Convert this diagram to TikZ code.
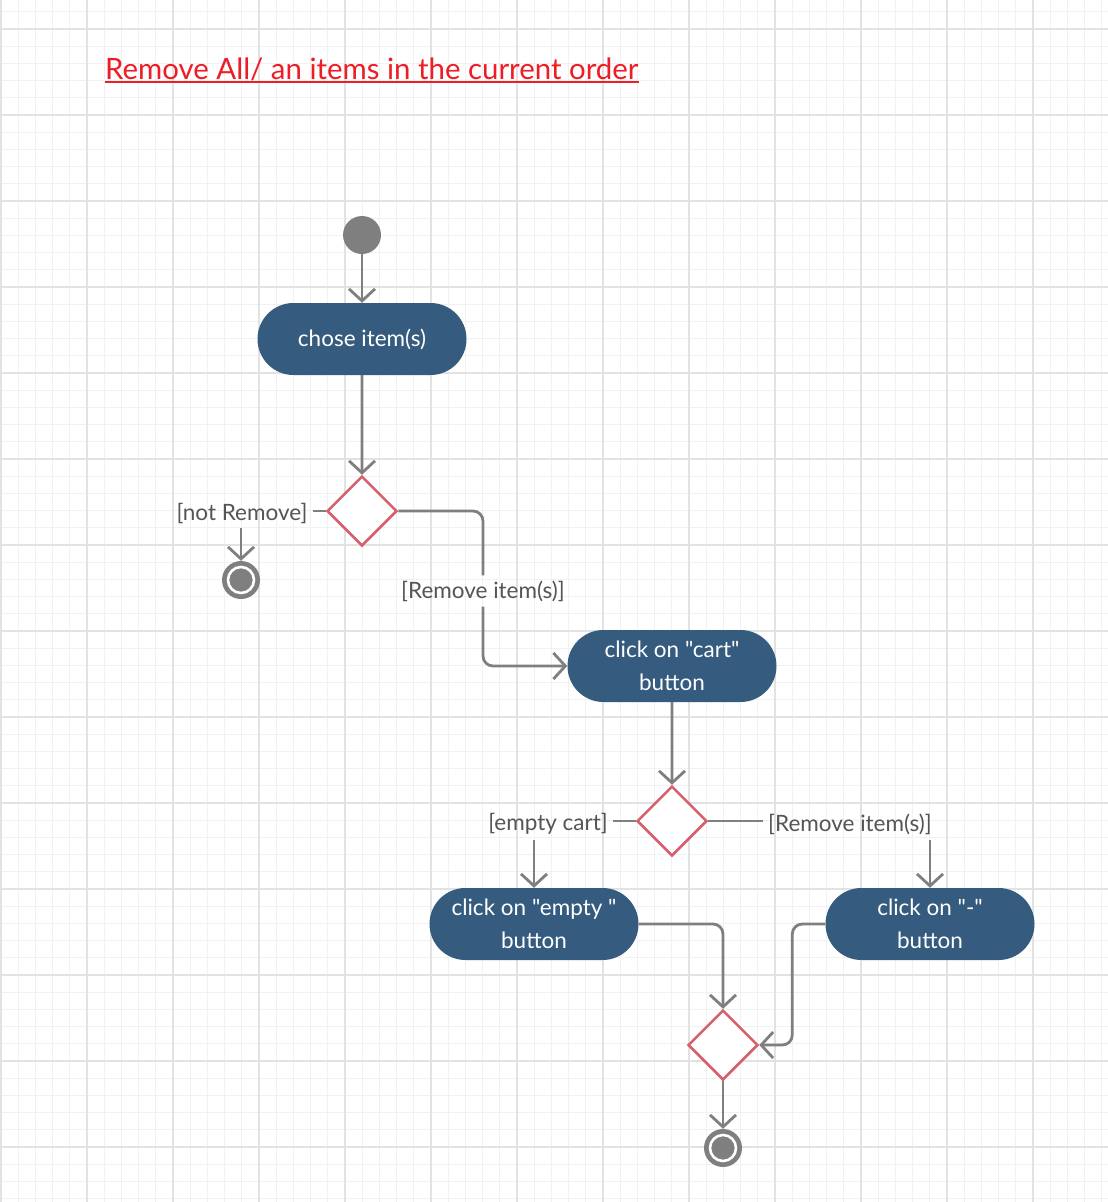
\documentclass[tikz,border=0pt]{standalone}
\usepackage{fontspec}
\setmainfont{Lato}[Ligatures=TeXOff]
\usetikzlibrary{shapes.misc,shapes.geometric,arrows.meta}
\definecolor{actblue}{HTML}{355B7E}
\definecolor{decred}{HTML}{D6606B}
\definecolor{conngray}{HTML}{7F7F7F}
\definecolor{lblgray}{HTML}{555555}
\definecolor{titlered}{HTML}{EE1C25}
\definecolor{gridminor}{HTML}{F1F1F1}
\definecolor{gridmajor}{HTML}{E2E2E2}
\tikzset{
  action/.style={rounded rectangle, fill=actblue, text=white, minimum width=209pt, minimum height=72pt, inner sep=0pt, align=center, font=\fontsize{22.5}{33}\selectfont},
  decision/.style={diamond, draw=decred, fill=white, line width=2.5pt, minimum width=70pt, minimum height=70pt, inner sep=0pt},
  startnode/.style={circle, fill=conngray, minimum size=38pt, inner sep=0pt},
  finalnode/.style={circle, fill=conngray, minimum size=38pt, inner sep=0pt,
    path picture={\draw[white, line width=2.6pt] (path picture bounding box.center) circle[radius=13pt];}},
  guard/.style={text=lblgray, font=\fontsize{22.5}{26}\selectfont, inner sep=5pt},
  conn/.style={draw=conngray, line width=2.8pt},
  flow/.style={conn, -{Straight Barb[length=12pt,width=26pt]}},
}
\begin{document}
\begin{tikzpicture}[x=1pt,y=-1pt]
\useasboundingbox (0,0) rectangle (1108,1202);
\fill[white] (0,0) rectangle (1108,1202);
% grid
\foreach \i in {0,...,64} {\draw[gridminor, line width=0.9pt] ({1+17.2*\i},0) -- ({1+17.2*\i},1202);}
\foreach \j in {0,...,69} {\draw[gridminor, line width=0.9pt] (0,{11.8+17.2*\j}) -- (1108,{11.8+17.2*\j});}
\foreach \i in {0,...,12} {\draw[gridmajor, line width=1.5pt] ({1+86*\i},0) -- ({1+86*\i},1202);}
\foreach \j in {0,...,13} {\draw[gridmajor, line width=1.5pt] (0,{29+86*\j}) -- (1108,{29+86*\j});}
% title
\node[anchor=base west, inner sep=0pt, text=titlered, font=\fontsize{29.4}{34}\selectfont] (title) at (105,79) {Remove All/ an items in the current order};
\draw[titlered, line width=1.7pt] ([yshift=-3pt]title.base west) -- ([yshift=-3pt]title.base east);
% nodes
\node[startnode] (s) at (362,235) {};
\node[action] (a1) at (362,339) {chose item(s)};
\node[decision] (d1) at (362,511) {};
\node[guard] (g1) at (242,513) {[not Remove]};
\node[finalnode] (f1) at (241,580) {};
\node[guard] (g2) at (483,591) {[Remove item(s)]};
\node[action] (a2) at (672,666) {click on "cart"\\button};
\node[decision] (d2) at (672,821) {};
\node[guard] (g3) at (548,824) {[empty cart]};
\node[guard] (g4) at (850,824) {[Remove item(s)]};
\node[action] (a3) at (534,924) {click on "empty "\\button};
\node[action] (a4) at (930,924) {click on "-"\\button};
\node[decision] (d3) at (723,1045) {};
\node[finalnode] (f2) at (723,1148) {};
% connectors
\draw[flow] (s) -- (a1);
\draw[flow] (a1) -- (d1);
\draw[conn] (d1.west) -- (d1.west -| g1.east);
\draw[flow] (g1.south -| f1.north) -- (f1.north);
\draw[conn, rounded corners=10pt] (d1.east) -| (g2.north);
\draw[flow, rounded corners=10pt] (g2.south) |- (a2.west);
\draw[flow] (a2) -- (d2);
\draw[conn] (d2.west) -- (d2.west -| g3.east);
\draw[flow] (g3.south -| a3.north) -- (a3.north);
\draw[conn] (d2.east) -- (d2.east -| g4.west);
\draw[flow] (g4.south -| a4.north) -- (a4.north);
\draw[flow, rounded corners=10pt] (a3.east) -| (d3.north);
\draw[flow, rounded corners=10pt] (a4.west) -- ++(-33,0) |- (d3.east);
\draw[flow] (d3) -- (f2);
\end{tikzpicture}
\end{document}
